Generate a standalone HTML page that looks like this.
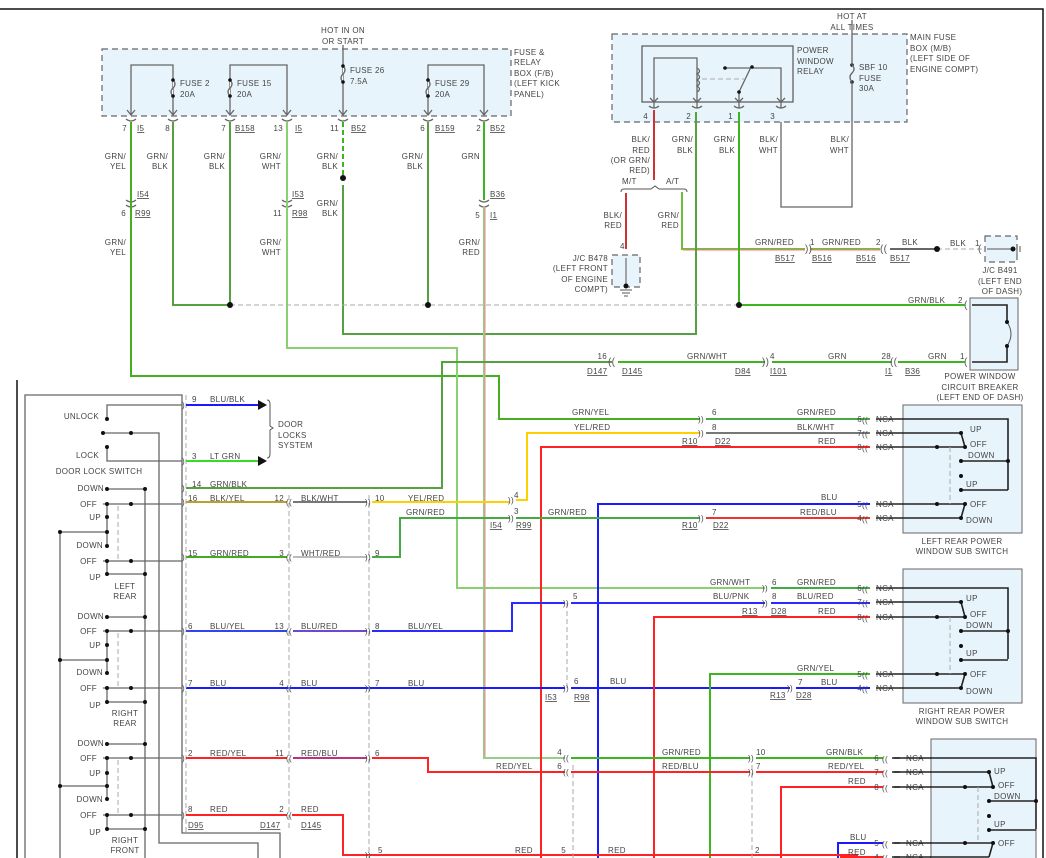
<!DOCTYPE html>
<html><head><meta charset="utf-8"><style>
html,body{margin:0;padding:0;background:#fff;}
svg{display:block;}
text{font-family:"Liberation Sans",sans-serif;font-size:8px;fill:#444;letter-spacing:0.3px;}
.u{text-decoration:underline;}
.c{font-size:10px;fill:#555;}
.r{text-anchor:end;}
.m{text-anchor:middle;}
.k{stroke:#222;stroke-width:1.6;fill:none;}
.g{stroke:#666;stroke-width:1.3;fill:none;}
.d{stroke:#aaa;stroke-width:1;stroke-dasharray:5,3;fill:none;}
.bx{fill:#e8f4fb;stroke:#666;stroke-width:1;}
.dbx{fill:#e8f4fb;stroke:#666;stroke-width:1.2;stroke-dasharray:6,4;}
.w{fill:none;stroke-width:2;}
</style></head><body>
<svg width="1046" height="858" viewBox="0 0 1046 858" xmlns="http://www.w3.org/2000/svg">
<path d="M0 9H1043V858" stroke="#111" stroke-width="1.5" fill="none"/>
<path d="M17 380V858" stroke="#111" stroke-width="1.5" fill="none"/>

<rect x="102" y="49" width="409" height="67" class="dbx"/>
<text x="343" y="33" class="m">HOT IN ON</text><text x="343" y="44" class="m">OR START</text>
<text x="514" y="55">FUSE &amp;</text><text x="514" y="65">RELAY</text><text x="514" y="76">BOX (F/B)</text><text x="514" y="86">(LEFT KICK</text><text x="514" y="97">PANEL)</text>
<path class="g" d="M131 115V65H173V115M230 115V65H287V115M343 45V115M428 115V65H484V115"/>
<g fill="#fff" stroke="#666" stroke-width="1.3">
<path d="M173 80q4 4 0 8q-4 4 0 8"/><path d="M230 80q4 4 0 8q-4 4 0 8"/><path d="M343 66q4 4 0 8q-4 4 0 8"/><path d="M428 80q4 4 0 8q-4 4 0 8"/>
</g>
<g fill="#111"><circle cx="173" cy="80" r="1.8"/><circle cx="173" cy="96" r="1.8"/><circle cx="230" cy="80" r="1.8"/><circle cx="230" cy="96" r="1.8"/><circle cx="343" cy="66" r="1.8"/><circle cx="343" cy="82" r="1.8"/><circle cx="428" cy="80" r="1.8"/><circle cx="428" cy="96" r="1.8"/></g>
<text x="180" y="86">FUSE 2</text><text x="180" y="97">20A</text>
<text x="237" y="86">FUSE 15</text><text x="237" y="97">20A</text>
<text x="350" y="73">FUSE 26</text><text x="350" y="84">7.5A</text>
<text x="435" y="86">FUSE 29</text><text x="435" y="97">20A</text>
<g class="g" stroke-width="1"><path d="M127 110l4 5 4-5M169 110l4 5 4-5M226 110l4 5 4-5M283 110l4 5 4-5M339 110l4 5 4-5M424 110l4 5 4-5M480 110l4 5 4-5"/>
<path d="M126 119q5 4 10 0M168 119q5 4 10 0M225 119q5 4 10 0M282 119q5 4 10 0M338 119q5 4 10 0M423 119q5 4 10 0M479 119q5 4 10 0"/></g>
<text x="127" y="131" class="r">7</text><text x="137" y="131" class="u">I5</text>
<text x="170" y="131" class="r">8</text>
<text x="226" y="131" class="r">7</text><text x="235" y="131" class="u">B158</text>
<text x="283" y="131" class="r">13</text><text x="295" y="131" class="u">I5</text>
<text x="339" y="131" class="r">11</text><text x="351" y="131" class="u">B52</text>
<text x="425" y="131" class="r">6</text><text x="435" y="131" class="u">B159</text>
<text x="481" y="131" class="r">2</text><text x="490" y="131" class="u">B52</text>

<text x="126" y="159" class="r">GRN/</text><text x="126" y="169" class="r">YEL</text>
<text x="168" y="159" class="r">GRN/</text><text x="168" y="169" class="r">BLK</text>
<text x="225" y="159" class="r">GRN/</text><text x="225" y="169" class="r">BLK</text>
<text x="281" y="159" class="r">GRN/</text><text x="281" y="169" class="r">WHT</text>
<text x="338" y="159" class="r">GRN/</text><text x="338" y="169" class="r">BLK</text>
<text x="423" y="159" class="r">GRN/</text><text x="423" y="169" class="r">BLK</text>
<text x="480" y="159" class="r">GRN</text>
<text x="126" y="245" class="r">GRN/</text><text x="126" y="255" class="r">YEL</text>
<text x="281" y="245" class="r">GRN/</text><text x="281" y="255" class="r">WHT</text>
<text x="338" y="206" class="r">GRN/</text><text x="338" y="216" class="r">BLK</text>
<text x="480" y="245" class="r">GRN/</text><text x="480" y="255" class="r">RED</text>
<text x="137" y="197" class="u">I54</text><text x="126" y="216" class="r">6</text><text x="135" y="216" class="u">R99</text>
<text x="292" y="197" class="u">I53</text><text x="282" y="216" class="r">11</text><text x="292" y="216" class="u">R98</text>
<text x="490" y="197" class="u">B36</text><text x="480" y="218" class="r">5</text><text x="490" y="218" class="u">I1</text>
<g class="g" stroke-width="1"><path d="M126 200q5 4 10 0M126 205q5 4 10 0M282 200q5 4 10 0M282 205q5 4 10 0M479 200q5 4 10 0M479 205q5 4 10 0"/></g>

<rect x="612" y="34" width="295" height="88" class="dbx"/>
<text x="852" y="19" class="m">HOT AT</text><text x="852" y="30" class="m">ALL TIMES</text>
<text x="910" y="40">MAIN FUSE</text><text x="910" y="51">BOX (M/B)</text><text x="910" y="61">(LEFT SIDE OF</text><text x="910" y="72">ENGINE COMPT)</text>
<rect x="642" y="46" width="151" height="56" fill="none" stroke="#555" stroke-width="1.2"/>
<text x="797" y="53">POWER</text><text x="797" y="64">WINDOW</text><text x="797" y="74">RELAY</text>
<path class="g" d="M654 108V58H697V108M725 68H781V108M739 108V92l12-25"/>
<path d="M697 68q5 3 0 6q5 3 0 6q5 3 0 6q5 3 0 6" stroke="#666" fill="none" stroke-width="1.3"/>
<path class="d" d="M702 79H745" stroke="#999"/>
<g fill="#111"><circle cx="725" cy="68" r="1.8"/><circle cx="752" cy="67" r="1.8"/><circle cx="739" cy="92" r="1.8"/><circle cx="852" cy="65" r="1.8"/><circle cx="852" cy="82" r="1.8"/></g>
<path class="g" d="M852 20V65M852 82V207H781V122"/><path d="M852 65q4 4 0 8q-4 4 0 9" stroke="#666" fill="none" stroke-width="1.3"/>
<text x="859" y="70">SBF 10</text><text x="859" y="81">FUSE</text><text x="859" y="91">30A</text>
<g class="g" stroke-width="1"><path d="M650 98l4 4 4-4M693 98l4 4 4-4M735 98l4 4 4-4M777 98l4 4 4-4M649 106q5 4 10 0M692 106q5 4 10 0M734 106q5 4 10 0M776 106q5 4 10 0"/></g>
<text x="648" y="119" class="r" >4</text><text x="691" y="119" class="r">2</text><text x="733" y="119" class="r">1</text><text x="775" y="119" class="r">3</text>
<text x="650" y="142" class="r">BLK/</text><text x="650" y="153" class="r">RED</text><text x="650" y="163" class="r">(OR GRN/</text><text x="650" y="173" class="r">RED)</text>
<text x="693" y="142" class="r">GRN/</text><text x="693" y="153" class="r">BLK</text>
<text x="735" y="142" class="r">GRN/</text><text x="735" y="153" class="r">BLK</text>
<text x="778" y="142" class="r">BLK/</text><text x="778" y="153" class="r">WHT</text>
<text x="849" y="142" class="r">BLK/</text><text x="849" y="153" class="r">WHT</text>
<text x="622" y="184">M/T</text><text x="666" y="184">A/T</text>
<path d="M621 192q0-3 3-3H651l4-3 4 3h25q3 0 3 3" stroke="#555" fill="none"/>
<path class="w" stroke="#c33" d="M654 110V180"/>
<path class="w" stroke="#c33" d="M626 193V249"/>
<text x="622" y="218" class="r">BLK/</text><text x="622" y="228" class="r">RED</text>
<text x="679" y="218" class="r">GRN/</text><text x="679" y="228" class="r">RED</text>
<rect x="612" y="255" width="28" height="32" class="dbx"/>
<text x="620" y="249">4</text>
<path d="M626 258V286" stroke="#555"/><circle cx="626" cy="286" r="2.5" fill="#111"/><path d="M620 290h12M622 293h8M624 296h4" stroke="#555"/>
<text x="608" y="261" class="r">J/C B478</text><text x="608" y="271" class="r">(LEFT FRONT</text><text x="608" y="282" class="r">OF ENGINE</text><text x="608" y="292" class="r">COMPT)</text>
<path class="w" stroke="#6cbf3a" d="M682 192V249H805"/><path stroke="#f77" stroke-width="1" d="M683 250H805"/>
<path class="w" stroke="#6cbf3a" d="M810 249H880"/><path stroke="#f77" stroke-width="1" d="M810 250H880"/>
<path stroke="#666" stroke-width="2" d="M890 249H937"/><path class="d" stroke="#666" stroke-width="2" d="M937 249H982"/><circle cx="937" cy="249" r="3" fill="#111"/>
<text x="805" y="252" class="c">))</text><text x="880" y="252" class="c">((</text><text x="978" y="252" class="c">(</text>
<text x="755" y="245">GRN/RED</text><text x="810" y="245">1</text><text x="822" y="245">GRN/RED</text><text x="876" y="245">2</text><text x="902" y="245">BLK</text><text x="950" y="246">BLK</text><text x="975" y="246">1</text>
<text x="775" y="261" class="u">B517</text><text x="812" y="261" class="u">B516</text><text x="856" y="261" class="u">B516</text><text x="890" y="261" class="u">B517</text>
<rect x="985" y="236" width="32" height="26" class="dbx"/><path d="M987 249H1013" stroke="#555"/><circle cx="1013" cy="249" r="2.5" fill="#111"/><path d="M1017 244v10M1020 246v6" stroke="#555"/>
<text x="1000" y="273" class="m">J/C B491</text><text x="1000" y="284" class="m">(LEFT END</text><text x="1002" y="294" class="m">OF DASH)</text>

<rect x="970" y="298" width="48" height="72" class="bx"/>
<path class="k" stroke-width="1.3" d="M972 305H1007V322M1007 346V362H972"/><path d="M1007 322q8 12 0 24" stroke="#555" fill="none"/>
<circle cx="1007" cy="322" r="2" fill="#111"/><circle cx="1007" cy="346" r="2" fill="#111"/>
<text x="964" y="308" class="c">(</text><text x="964" y="365" class="c">(</text>
<text x="908" y="303">GRN/BLK</text><text x="958" y="303">2</text>
<text x="980" y="379" class="m">POWER WINDOW</text><text x="980" y="390" class="m">CIRCUIT BREAKER</text><text x="980" y="400" class="m">(LEFT END OF DASH)</text>

<path class="w" stroke="#44b020" d="M131 122V376H499V419H700"/>
<path class="w" stroke="#55a040" d="M173 122V305H230"/>
<path class="w" stroke="#55a040" d="M230 122V305"/>
<path class="w" stroke="#8ad070" d="M287 122V348H457V588H765"/>
<path class="w" stroke="#3cb521" stroke-dasharray="5,3" d="M343 122V178"/>
<path class="w" stroke="#55a040" d="M343 185V334H696V112"/>
<path class="w" stroke="#55a040" d="M428 122V305"/>
<path class="w" stroke="#3cb521" d="M484 122V200"/>
<path class="w" stroke="#9c8" d="M484 206V758H565"/><path stroke="#e88" stroke-width="1" d="M485 206V757"/>
<path class="w" stroke="#3cb521" d="M739 112V305H965"/>
<path class="d" stroke="#999" stroke-width="1.2" d="M230 305H739"/>
<path class="w" stroke="#55a040" d="M186 488H442V362H612"/>
<path class="w" stroke="#3cb521" d="M618 362H765M772 362H892M898 362H965"/>
<g fill="#111"><circle cx="343" cy="178" r="3"/><circle cx="230" cy="305" r="3"/><circle cx="428" cy="305" r="3"/><circle cx="739" cy="305" r="3"/></g>
<text x="608" y="365" class="c">((</text><text x="762" y="365" class="c">))</text><text x="890" y="365" class="c">((</text>
<text x="607" y="359" class="r">16</text><text x="587" y="374" class="u">D147</text><text x="622" y="374" class="u">D145</text>
<text x="687" y="359">GRN/WHT</text><text x="770" y="359">4</text><text x="735" y="374" class="u">D84</text><text x="770" y="374" class="u">I101</text>
<text x="828" y="359">GRN</text><text x="891" y="359" class="r">28</text><text x="885" y="374" class="u">I1</text><text x="905" y="374" class="u">B36</text>
<text x="928" y="359">GRN</text><text x="960" y="359">1</text>

<path class="w" stroke="#ffd000" d="M372 502H510"/>
<path class="w" stroke="#ffd000" d="M516 500H527V433H700"/>
<path class="w" stroke="#f22" d="M541 858V447H870"/>
<path class="w" stroke="#1a1aff" d="M598 858V504H870"/>
<path class="w" stroke="#4a4" d="M372 557H400V518H510"/>
<path class="w" stroke="#4a4" d="M516 518H700"/>
<path class="w" stroke="#e33" d="M706 518H870"/><path class="w" stroke="#4a4" d="M706 419H870"/><path class="w" stroke="#777" d="M706 433H870"/>
<path class="w" stroke="#2a2aff" d="M372 631H512V603H565M571 603H765M771 603H870"/>
<path class="w" stroke="#1a1aff" d="M186 688H565M571 688H790M796 688H870"/>
<path class="w" stroke="#4a4" d="M771 588H870"/>
<path class="w" stroke="#f22" d="M654 858V617H870"/>
<path class="w" stroke="#3cb521" d="M710 858V674H870"/>
<path class="w" stroke="#f22" d="M372 758H428V772H565M571 772H750M756 772H883"/>
<path class="w" stroke="#3cb521" d="M571 758H750M756 758H883"/>
<path class="w" stroke="#f22" d="M781 858V787H883"/>
<path class="w" stroke="#1a1aff" d="M838 858V843H883"/>
<path class="w" stroke="#f22" d="M840 857H883"/>
<path class="w" stroke="#f22" d="M292 815H343V855H858"/>
<path class="d" d="M567 603V688M573 765V858M752 765V858"/>
<g class="c"><text x="698" y="422">))</text><text x="698" y="436">))</text><text x="698" y="521">))</text><text x="508" y="503">))</text><text x="508" y="521">))</text>
<text x="762" y="591">))</text><text x="762" y="606">))</text><text x="563" y="606">))</text><text x="563" y="691">))</text><text x="787" y="691">))</text>
<text x="563" y="761">((</text><text x="563" y="775">((</text><text x="748" y="761">))</text><text x="748" y="775">))</text></g>
<text x="572" y="415">GRN/YEL</text><text x="712" y="415">6</text><text x="797" y="415">GRN/RED</text>
<text x="574" y="430">YEL/RED</text><text x="712" y="430">8</text><text x="797" y="430">BLK/WHT</text>
<text x="682" y="444" class="u">R10</text><text x="715" y="444" class="u">D22</text><text x="818" y="444">RED</text>
<text x="406" y="515">GRN/RED</text><text x="514" y="498">4</text><text x="514" y="514">3</text><text x="490" y="528" class="u">I54</text><text x="516" y="528" class="u">R99</text>
<text x="548" y="515">GRN/RED</text><text x="712" y="515">7</text><text x="800" y="515">RED/BLU</text><text x="682" y="528" class="u">R10</text><text x="713" y="528" class="u">D22</text>
<text x="821" y="500">BLU</text>
<text x="710" y="585">GRN/WHT</text><text x="772" y="585">6</text><text x="797" y="585">GRN/RED</text>
<text x="713" y="599">BLU/PNK</text><text x="772" y="599">8</text><text x="797" y="599">BLU/RED</text><text x="573" y="599">5</text>
<text x="742" y="614" class="u">R13</text><text x="771" y="614" class="u">D28</text><text x="818" y="614">RED</text>
<text x="797" y="671">GRN/YEL</text><text x="821" y="685">BLU</text><text x="798" y="685">7</text>
<text x="770" y="698" class="u">R13</text><text x="796" y="698" class="u">D28</text>
<text x="574" y="684">6</text><text x="610" y="684">BLU</text><text x="545" y="700" class="u">I53</text><text x="574" y="700" class="u">R98</text>
<text x="562" y="755" class="r">4</text><text x="662" y="755">GRN/RED</text><text x="756" y="755">10</text><text x="826" y="755">GRN/BLK</text>
<text x="562" y="769" class="r">6</text><text x="496" y="769">RED/YEL</text><text x="662" y="769">RED/BLU</text><text x="756" y="769">7</text><text x="828" y="769">RED/YEL</text>
<text x="848" y="784">RED</text><text x="850" y="840">BLU</text><text x="848" y="855">RED</text>
<text x="566" y="853" class="r">5</text><text x="515" y="853">RED</text><text x="608" y="853">RED</text><text x="755" y="853">2</text><text x="378" y="853">5</text>

<g>
<rect x="903" y="405" width="119" height="128" class="bx"/>
<g transform="translate(0,419)">
<path class="k" d="M876 0H1008V71M876 14H961M876 28H965M961 42H1008M961 71H1008M876 85H965M876 99H961M961 14L965 28M965 85L961 99"/>
<path class="d" stroke="#999" d="M950 28V85"/>
<g fill="#111"><circle cx="961" cy="14" r="2"/><circle cx="937" cy="28" r="2"/><circle cx="965" cy="28" r="2"/><circle cx="961" cy="42" r="2"/><circle cx="1008" cy="42" r="2"/><circle cx="961" cy="57" r="2"/><circle cx="961" cy="71" r="2"/><circle cx="937" cy="85" r="2"/><circle cx="965" cy="85" r="2"/><circle cx="961" cy="99" r="2"/></g>
<text x="970" y="13">UP</text><text x="970" y="28">OFF</text><text x="968" y="39">DOWN</text><text x="966" y="68">UP</text><text x="970" y="88">OFF</text><text x="966" y="104">DOWN</text>
<g class="c"><text x="862" y="4">((</text><text x="862" y="18">((</text><text x="862" y="32">((</text><text x="862" y="89">((</text><text x="862" y="103">((</text></g>
<text x="876" y="3">NCA</text><text x="876" y="17">NCA</text><text x="876" y="31">NCA</text><text x="876" y="88">NCA</text><text x="876" y="102">NCA</text>
<text x="862" y="3" class="r">6</text><text x="862" y="17" class="r">7</text><text x="862" y="31" class="r">8</text><text x="862" y="88" class="r">5</text><text x="862" y="102" class="r">4</text>
</g></g>
<text x="962" y="544" class="m">LEFT REAR POWER</text><text x="962" y="554" class="m">WINDOW SUB SWITCH</text>
<rect x="903" y="569" width="119" height="134" class="bx"/>
<g transform="translate(0,588)">
<path class="k" d="M876 0H1008V71M876 14H961M876 29H965M961 43H1008M961 72H1008M876 86H965M876 100H961M961 14L965 29M965 86L961 100"/>
<path class="d" stroke="#999" d="M950 29V86"/>
<g fill="#111"><circle cx="961" cy="14" r="2"/><circle cx="937" cy="29" r="2"/><circle cx="965" cy="29" r="2"/><circle cx="961" cy="43" r="2"/><circle cx="1008" cy="43" r="2"/><circle cx="961" cy="58" r="2"/><circle cx="961" cy="72" r="2"/><circle cx="937" cy="86" r="2"/><circle cx="965" cy="86" r="2"/><circle cx="961" cy="100" r="2"/></g>
<text x="966" y="13">UP</text><text x="970" y="29">OFF</text><text x="966" y="40">DOWN</text><text x="966" y="68">UP</text><text x="970" y="89">OFF</text><text x="966" y="106">DOWN</text>
<g class="c"><text x="862" y="4">((</text><text x="862" y="18">((</text><text x="862" y="33">((</text><text x="862" y="90">((</text><text x="862" y="104">((</text></g>
<text x="876" y="3">NCA</text><text x="876" y="17">NCA</text><text x="876" y="32">NCA</text><text x="876" y="89">NCA</text><text x="876" y="103">NCA</text>
<text x="862" y="3" class="r">6</text><text x="862" y="17" class="r">7</text><text x="862" y="32" class="r">8</text><text x="862" y="89" class="r">5</text><text x="862" y="103" class="r">4</text>
</g>
<text x="962" y="714" class="m">RIGHT REAR POWER</text><text x="962" y="724" class="m">WINDOW SUB SWITCH</text>
<rect x="931" y="739" width="105" height="130" class="bx"/>
<g transform="translate(28,758)">
<path class="k" d="M864 0H1008V71M864 14H961M864 29H965M961 43H1008M961 72H1008M864 85H965M864 99H961M961 14L965 29M965 85L961 99"/>
<path class="d" stroke="#999" d="M950 29V85"/>
<g fill="#111"><circle cx="961" cy="14" r="2"/><circle cx="937" cy="29" r="2"/><circle cx="965" cy="29" r="2"/><circle cx="961" cy="43" r="2"/><circle cx="1008" cy="43" r="2"/><circle cx="961" cy="58" r="2"/><circle cx="961" cy="72" r="2"/><circle cx="937" cy="85" r="2"/><circle cx="965" cy="85" r="2"/></g>
<text x="966" y="16">UP</text><text x="970" y="30">OFF</text><text x="966" y="41">DOWN</text><text x="966" y="69">UP</text><text x="970" y="88">OFF</text>
</g>
<g class="c"><text x="882" y="762">((</text><text x="882" y="776">((</text><text x="882" y="791">((</text><text x="882" y="847">((</text><text x="882" y="861">((</text></g>
<rect x="900" y="752" width="30" height="110" fill="#fff"/>
<text x="906" y="761">NCA</text><text x="906" y="775">NCA</text><text x="906" y="790">NCA</text><text x="906" y="846">NCA</text><text x="906" y="860">NCA</text>
<path class="k" d="M894 758H931M894 772H931M894 787H931M894 843H931M894 857H931" stroke-width="1.6"/>
<text x="879" y="761" class="r">6</text><text x="879" y="775" class="r">7</text><text x="879" y="790" class="r">8</text><text x="879" y="846" class="r">5</text><text x="879" y="860" class="r">4</text>

<path class="g" d="M25 858V395H182V833H280V858"/>
<path class="d" d="M186 395V833M289 495V830M369 495V858"/>
<path class="g" d="M107 419V405H182M103 433H159V843H258V858M107 447V461H182M145 489V858M60 532V858"/>
<g fill="#111"><circle cx="107" cy="419" r="2"/><circle cx="103" cy="433" r="2"/><circle cx="131" cy="433" r="2"/><circle cx="107" cy="447" r="2"/></g>
<text x="99" y="419" class="r">UNLOCK</text><text x="99" y="458" class="r">LOCK</text><text x="99" y="474" class="m">DOOR LOCK SWITCH</text>
<path class="w" stroke="#1a1aff" d="M186 405H258"/><path d="M258 400l9 5-9 5z" fill="#111"/>
<path class="w" stroke="#33dd22" d="M186 461H258"/><path d="M258 456l9 5-9 5z" fill="#111"/>
<path d="M267 400q3 0 3 4v22l3 2-3 2v24q0 4-3 4" stroke="#555" fill="none"/>
<text x="192" y="402">9</text><text x="210" y="402">BLU/BLK</text><text x="192" y="459">3</text><text x="210" y="459">LT GRN</text>
<text x="278" y="427">DOOR</text><text x="278" y="438">LOCKS</text><text x="278" y="448">SYSTEM</text>
<text x="192" y="487">14</text><text x="210" y="487">GRN/BLK</text>

<g>
<path class="g" d="M107 489H145M103 504H182M107 504L107 517M107 517V546M60 532H107M107 561V574M103 561H182M107 574H145"/>
<path class="d" d="M118 506V560"/>
<g fill="#111"><circle cx="107" cy="489" r="2"/><circle cx="145" cy="489" r="2"/><circle cx="107" cy="504" r="2"/><circle cx="131" cy="504" r="2"/><circle cx="107" cy="517" r="2"/><circle cx="107" cy="532" r="2"/><circle cx="60" cy="532" r="2"/><circle cx="107" cy="546" r="2"/><circle cx="107" cy="561" r="2"/><circle cx="131" cy="561" r="2"/><circle cx="107" cy="574" r="2"/><circle cx="145" cy="574" r="2"/></g>
<text x="104" y="491" class="r">DOWN</text><text x="97" y="507" class="r">OFF</text><text x="101" y="520" class="r">UP</text><text x="103" y="548" class="r">DOWN</text><text x="97" y="564" class="r">OFF</text><text x="101" y="580" class="r">UP</text>
<text x="125" y="589" class="m">LEFT</text><text x="125" y="599" class="m">REAR</text>
</g>
<g>
<path class="g" d="M107 617H145M103 631H182M107 631L107 645M107 645V673M60 660H107M107 688V702M103 688H182M107 702H145"/>
<path class="d" d="M118 633V687"/>
<g fill="#111"><circle cx="107" cy="617" r="2"/><circle cx="145" cy="617" r="2"/><circle cx="107" cy="631" r="2"/><circle cx="131" cy="631" r="2"/><circle cx="107" cy="645" r="2"/><circle cx="107" cy="660" r="2"/><circle cx="60" cy="660" r="2"/><circle cx="107" cy="673" r="2"/><circle cx="107" cy="688" r="2"/><circle cx="131" cy="688" r="2"/><circle cx="107" cy="702" r="2"/><circle cx="145" cy="702" r="2"/></g>
<text x="104" y="619" class="r">DOWN</text><text x="97" y="634" class="r">OFF</text><text x="101" y="648" class="r">UP</text><text x="103" y="675" class="r">DOWN</text><text x="97" y="691" class="r">OFF</text><text x="101" y="708" class="r">UP</text>
<text x="125" y="716" class="m">RIGHT</text><text x="125" y="726" class="m">REAR</text>
</g>
<g>
<path class="g" d="M107 744H145M103 758H182M107 758L107 773M107 773V799M60 786H107M107 815V829M103 815H182M107 829H145"/>
<path class="d" d="M118 760V814"/>
<g fill="#111"><circle cx="107" cy="744" r="2"/><circle cx="145" cy="744" r="2"/><circle cx="107" cy="758" r="2"/><circle cx="131" cy="758" r="2"/><circle cx="107" cy="773" r="2"/><circle cx="107" cy="786" r="2"/><circle cx="60" cy="786" r="2"/><circle cx="107" cy="799" r="2"/><circle cx="107" cy="815" r="2"/><circle cx="131" cy="815" r="2"/><circle cx="107" cy="829" r="2"/><circle cx="145" cy="829" r="2"/></g>
<text x="104" y="746" class="r">DOWN</text><text x="97" y="761" class="r">OFF</text><text x="101" y="776" class="r">UP</text><text x="103" y="802" class="r">DOWN</text><text x="97" y="818" class="r">OFF</text><text x="101" y="835" class="r">UP</text>
<text x="125" y="843" class="m">RIGHT</text><text x="125" y="853" class="m">FRONT</text>
</g>

<path class="w" stroke="#bba030" d="M186 502H287"/><path class="w" stroke="#777" d="M293 502H367"/>
<path class="w" stroke="#44aa22" d="M186 557H287"/><path class="w" stroke="#bbb" d="M293 557H367"/>
<path class="w" stroke="#3344ee" d="M186 631H287"/><path class="w" stroke="#6a4ad0" d="M293 631H367"/>
<path class="w" stroke="#f22" d="M186 758H287"/><path class="w" stroke="#c03080" d="M293 758H367"/>
<path class="w" stroke="#f22" d="M186 815H287"/>
<g class="c"><text x="182" y="505">)</text><text x="182" y="560">)</text><text x="182" y="634">)</text><text x="182" y="691">)</text><text x="182" y="761">)</text><text x="182" y="818">)</text><text x="182" y="491">)</text><text x="182" y="408">)</text><text x="182" y="464">)</text>
<text x="286" y="505">((</text><text x="286" y="560">((</text><text x="286" y="634">((</text><text x="286" y="691">((</text><text x="286" y="761">((</text><text x="286" y="818">((</text>
<text x="365" y="505">))</text><text x="365" y="560">))</text><text x="365" y="634">))</text><text x="365" y="691">))</text><text x="365" y="761">))</text><text x="365" y="858">))</text></g>
<text x="188" y="501">16</text><text x="210" y="501">BLK/YEL</text><text x="284" y="501" class="r">12</text><text x="301" y="501">BLK/WHT</text><text x="375" y="501">10</text><text x="408" y="501">YEL/RED</text>
<text x="188" y="556">15</text><text x="210" y="556">GRN/RED</text><text x="284" y="556" class="r">3</text><text x="301" y="556">WHT/RED</text><text x="375" y="556">9</text>
<text x="188" y="629">6</text><text x="210" y="629">BLU/YEL</text><text x="284" y="629" class="r">13</text><text x="301" y="629">BLU/RED</text><text x="375" y="629">8</text><text x="408" y="629">BLU/YEL</text>
<text x="188" y="686">7</text><text x="210" y="686">BLU</text><text x="284" y="686" class="r">4</text><text x="301" y="686">BLU</text><text x="375" y="686">7</text><text x="408" y="686">BLU</text>
<text x="188" y="756">2</text><text x="210" y="756">RED/YEL</text><text x="284" y="756" class="r">11</text><text x="301" y="756">RED/BLU</text><text x="375" y="756">6</text>
<text x="188" y="812">8</text><text x="210" y="812">RED</text><text x="284" y="812" class="r">2</text><text x="301" y="812">RED</text>
<text x="188" y="828" class="u">D95</text><text x="260" y="828" class="u">D147</text><text x="301" y="828" class="u">D145</text>
</svg>
</body></html>
